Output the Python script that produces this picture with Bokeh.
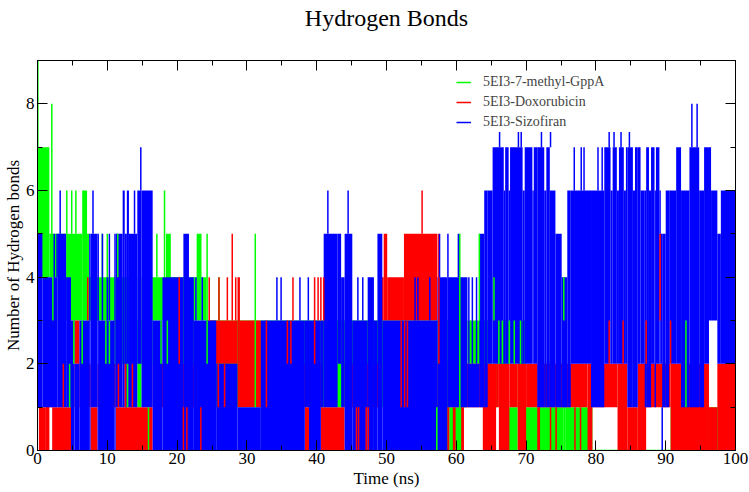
from bokeh.plotting import figure
from bokeh.models import Range1d, LinearAxis, SingleIntervalTicker, Legend, LegendItem
from bokeh.embed import file_html
from bokeh.resources import INLINE

# ---- data (time in ns, number of H-bonds) ----
# Each series: bands (start time, low value, high value); a band lasts until the next start (last ends at 100 ns)
green_t  = [0.0, 1.7, 4.1, 6.4, 7.1, 7.4, 11.0, 14.3, 14.9, 16.5, 18.4, 19.1, 22.4, 22.8, 23.5, 24.2,
            57.3, 59.0, 60.9, 61.6, 64.9, 65.9, 67.5, 68.8, 69.9, 75.4, 75.6, 79.5, 90.7, 92.7, 93.1]
green_lo = [4, 4, 3, 3, 3, 3, 2, 1, 2, 3, 3, 2, 3, 3, 3, 1,
            0, 0, 1, 2, 1, 2, 0, 1, 0, 0, 0, 0, 0, 1, 0]
green_hi = [7, 5, 5, 6, 5, 4, 4, 3, 4, 4, 5, 4, 4, 5, 4, 3,
            3, 1, 2, 3, 2, 3, 1, 3, 1, 3, 1, 0, 1, 2, 1]
green_spike_t  = [0.05, 2.05, 2.2, 4.2, 4.6, 4.9, 5.2, 5.5, 6.4, 9.3, 9.8, 10.0, 10.3, 11.5, 12.9,
                  15.9, 17.1, 17.7, 18.2, 18.6, 24.3, 26.0, 31.2, 57.2, 60.5, 63.3, 65.4,
                  66.1, 66.6, 67.6, 68.3, 69.2, 75.4, 92.9]
green_spike_lo = [5, 4, 3, 5, 1, 5, 2, 5, 2, 4, 2, 4, 2, 4, 1,
                  0, 4, 2, 4, 2, 2, 3, 1, 0, 1, 3, 3,
                  2, 2, 2, 2, 2, 3, 1]
green_spike_hi = [9, 8, 4, 6, 2, 6, 3, 6, 3, 5, 3, 5, 3, 5, 2,
                  1, 5, 3, 6, 3, 5, 4, 5, 1, 5, 5, 4,
                  3, 3, 3, 3, 3, 4, 3]

red_t  = [0.0, 0.2, 1.2, 1.7, 2.1, 4.8, 5.3, 6.0, 7.6, 8.6, 11.2, 16.5, 24.2, 28.65, 29.0, 32.0,
          38.3, 38.9, 40.6, 44.0, 48.9, 49.6, 50.1, 52.5, 57.3, 58.7, 59.0, 59.5, 59.9, 60.7,
          61.1, 63.8, 65.7, 66.1, 67.6, 68.8, 70.0, 71.6, 72.0, 78.8, 79.5, 83.1, 84.5, 86.0,
          87.2, 90.7, 96.2, 97.4]
red_lo = [1, 0, 0, 1, 0, 1, 2, 1, 0, 1, 0, 1, 2, 1, 1, 1,
          0, 1, 0, 1, 3, 3, 3, 3, 1, 0, 1, 0, 1, 0,
          1, 0, 1, 0, 1, 0, 1, 0, 1, 0, 1, 0, 0, 0,
          1, 0, 0, 0]
red_hi = [2, 1, 2, 2, 1, 2, 3, 2, 1, 2, 1, 2, 3, 4, 3, 2,
          1, 2, 1, 2, 4, 5, 4, 5, 2, 1, 2, 1, 2, 1,
          2, 2, 2, 2, 2, 2, 2, 2, 2, 2, 2, 2, 1, 2,
          2, 2, 1, 2]
red_spike_t  = [3.7, 7.2, 11.6, 12.6, 13.6, 20.3, 20.9, 21.4, 23.4, 24.6, 25.9, 26.0, 26.8, 27.2, 27.9,
                28.4, 32.8, 35.8, 36.3, 36.6, 39.7, 40.2, 40.6, 41.0, 45.7, 46.0, 47.1, 47.4, 52.1,
                52.6, 53.0, 55.1, 57.5, 73.5, 74.3, 77.0, 77.8, 81.9, 83.9, 87.2, 89.2, 90.7]
red_spike_lo = [1, 3, 1, 1, 1, 2, 0, 0, 0, 3, 1, 3, 1, 3, 3,
                3, 1, 2, 2, 3, 2, 3, 3, 3, 0, 0, 0, 0, 1,
                1, 1, 5, 2, 0, 0, 0, 0, 2, 2, 2, 3, 2]
red_spike_hi = [2, 4, 2, 2, 2, 4, 1, 1, 1, 4, 2, 4, 2, 4, 5,
                4, 3, 3, 3, 4, 4, 4, 4, 4, 1, 1, 1, 1, 3,
                3, 3, 6, 5, 1, 1, 1, 1, 3, 3, 3, 5, 3]

blue_t  = [0.0, 0.7, 2.9, 4.1, 4.8, 5.3, 6.0, 7.4, 7.6, 8.6, 8.8, 11.0, 11.2, 12.2, 12.5, 12.8, 13.1,
           14.3, 14.9, 16.5, 17.9, 20.9, 21.7, 22.4, 25.6, 28.65, 32.0, 38.3, 38.9, 40.6, 41.0,
           43.0, 43.5, 44.0, 45.1, 47.3, 48.2, 48.7, 49.4, 57.3, 58.7, 61.6, 63.3, 64.0, 64.5,
           65.2, 66.8, 67.0, 67.5, 67.7, 69.5, 69.8, 70.9, 71.1, 71.6, 72.6, 72.9, 73.4, 74.2,
           75.1, 75.9, 76.4, 79.3, 81.2, 82.1, 82.4, 83.0, 83.3, 84.0, 84.3, 84.5, 85.3, 85.6,
           86.0, 86.4, 87.0, 87.2, 87.6, 87.9, 88.4, 88.6, 89.1, 89.3, 89.5, 90.0, 90.5, 91.5,
           92.2, 93.4, 94.8, 95.5, 96.2, 96.5, 97.4, 97.9]
blue_lo = [1, 1, 1, 1, 0, 0, 0, 0, 1, 0, 0, 0, 1, 1, 1, 1, 1,
           2, 1, 0, 0, 0, 0, 0, 0, 0, 0, 1, 0, 1, 1,
           2, 1, 0, 0, 0, 0, 0, 0, 0, 1, 1, 1, 1, 2,
           2, 2, 2, 2, 2, 2, 2, 2, 2, 1, 1, 1, 1, 1,
           1, 1, 2, 1, 2, 2, 2, 2, 2, 2, 2, 1, 1, 1,
           2, 2, 1, 1, 1, 2, 1, 2, 2, 2, 1, 1, 2, 2,
           1, 1, 1, 2, 3, 3, 2, 2]
blue_hi = [5, 4, 5, 4, 3, 2, 3, 5, 5, 5, 3, 5, 5, 6, 5, 6, 5,
           6, 6, 3, 4, 5, 4, 3, 2, 1, 3, 3, 3, 3, 5,
           5, 4, 5, 3, 4, 3, 5, 3, 4, 4, 2, 5, 6, 6,
           7, 6, 7, 6, 7, 6, 7, 6, 7, 7, 6, 7, 6, 5,
           4, 6, 6, 6, 7, 6, 7, 6, 7, 6, 7, 7, 6, 7,
           7, 6, 6, 7, 6, 7, 6, 7, 6, 5, 5, 6, 6, 7,
           6, 7, 6, 7, 7, 6, 5, 6]
blue_spike_t  = [2.4, 2.8, 3.25, 7.95, 9.3, 10.0, 10.3, 13.9, 14.8, 22.7, 23.6, 34.3, 34.9, 37.6, 38.8,
                 41.6, 44.5, 45.9, 46.6, 54.1, 54.5, 56.2, 57.6, 58.8, 60.3, 61.8, 62.3, 62.9,
                 66.2, 68.9, 69.3, 72.2, 73.5, 76.9, 77.9, 78.3, 80.3, 80.9, 81.9, 82.6, 83.6, 84.8,
                 89.5, 93.75, 94.5]
blue_spike_lo = [4, 4, 5, 5, 3, 3, 3, 5, 6, 3, 3, 3, 3, 3, 3,
                 5, 5, 3, 3, 3, 3, 3, 4, 4, 4, 2, 2, 2,
                 7, 7, 7, 7, 7, 6, 6, 6, 6, 6, 7, 7, 7, 7,
                 0, 7, 7]
blue_spike_hi = [5, 5, 6, 6, 5, 4, 5, 6, 7, 4, 4, 4, 4, 4, 4,
                 6, 6, 4, 4, 4, 4, 4, 5, 5, 5, 4, 4, 4,
                 8, 8, 8, 8, 8, 7, 7, 7, 7, 7, 8, 8, 8, 8,
                 1, 8, 8]

series_names = ["5EI3-7-methyl-GppA", "5EI3-Doxorubicin", "5EI3-Sizofiran"]
series_colors = ["#00ff00", "#ff0000", "#0000ff"]
title_text = "Hydrogen Bonds"

FONT = "Liberation Serif"

p = figure(width=749, height=492, output_backend="svg", toolbar_location=None, title=None,
           x_range=Range1d(0, 100), y_range=Range1d(0, 9),
           min_border_left=37, min_border_right=14, min_border_top=60, min_border_bottom=42,
           x_axis_label="Time (ns)", y_axis_label="Number of Hydrogen bonds")
p.xgrid.visible = False
p.ygrid.visible = False
p.outline_line_color = "black"
p.background_fill_color = "white"

def ends(starts):
    return list(starts[1:]) + [100.0]

bands = [(green_t, green_lo, green_hi), (red_t, red_lo, red_hi), (blue_t, blue_lo, blue_hi)]
spikes = [(green_spike_t, green_spike_lo, green_spike_hi),
          (red_spike_t, red_spike_lo, red_spike_hi),
          (blue_spike_t, blue_spike_lo, blue_spike_hi)]

for (t, lo, hi), c in zip(bands, series_colors):
    e = ends(t)
    p.quad(left=t, right=e, bottom=lo, top=hi, fill_color=c, line_color=None)
    flat = [i for i in range(len(t)) if lo[i] == hi[i]]
    if flat:
        p.segment(x0=[t[i] for i in flat], y0=[lo[i] for i in flat],
                  x1=[e[i] for i in flat], y1=[hi[i] for i in flat],
                  line_color=c, line_width=1.5)

spike_renderers = []
for (t, lo, hi), c in zip(spikes, series_colors):
    r = p.segment(x0=t, y0=lo, x1=t, y1=hi, line_color=c, line_width=1.5)
    spike_renderers.append(r)

bottom_ax = p.below[0]
left_ax = p.left[0]
bottom_ax.ticker = SingleIntervalTicker(interval=10, num_minor_ticks=2)
left_ax.ticker = SingleIntervalTicker(interval=2, num_minor_ticks=2)

# top axis carries the chart title as its label; right axis mirrors the ticks
top_ax = LinearAxis(ticker=SingleIntervalTicker(interval=10, num_minor_ticks=2),
                    major_label_text_alpha=0.0, major_label_text_font_size="1px",
                    major_label_standoff=0, axis_label=title_text,
                    axis_label_text_font=FONT, axis_label_text_font_size="24px",
                    axis_label_text_font_style="normal", axis_label_text_color="black",
                    axis_label_standoff=30)
right_ax = LinearAxis(ticker=SingleIntervalTicker(interval=2, num_minor_ticks=2),
                      major_label_text_alpha=0.0, major_label_text_font_size="1px",
                      major_label_standoff=0)
p.add_layout(top_ax, "above")
p.add_layout(right_ax, "right")

for ax in [bottom_ax, left_ax, top_ax, right_ax]:
    ax.major_tick_in = 10
    ax.major_tick_out = 0
    ax.minor_tick_in = 5
    ax.minor_tick_out = 0
    ax.axis_line_color = "black"
    ax.major_tick_line_color = "black"
    ax.minor_tick_line_color = "black"

for ax in [bottom_ax, left_ax]:
    ax.major_label_text_font = FONT
    ax.major_label_text_color = "black"
    ax.major_label_text_font_size = "17px"
    ax.axis_label_text_font = FONT
    ax.axis_label_text_font_style = "normal"
    ax.axis_label_text_color = "black"
    ax.axis_label_text_font_size = "17px"
bottom_ax.major_label_standoff = 2
bottom_ax.axis_label_standoff = 2
left_ax.major_label_standoff = 3
left_ax.axis_label_standoff = 0

legend = Legend(items=[LegendItem(label=n, renderers=[r]) for n, r in zip(series_names, spike_renderers)],
                location=(419, 318), background_fill_color="white", background_fill_alpha=1.0,
                border_line_color=None, label_text_font=FONT, label_text_font_size="14px",
                glyph_width=15, glyph_height=20, label_height=20, label_standoff=12,
                spacing=0, padding=6, margin=0, label_width=165)
p.add_layout(legend)

open("out.html", "w").write(file_html(p, INLINE))
